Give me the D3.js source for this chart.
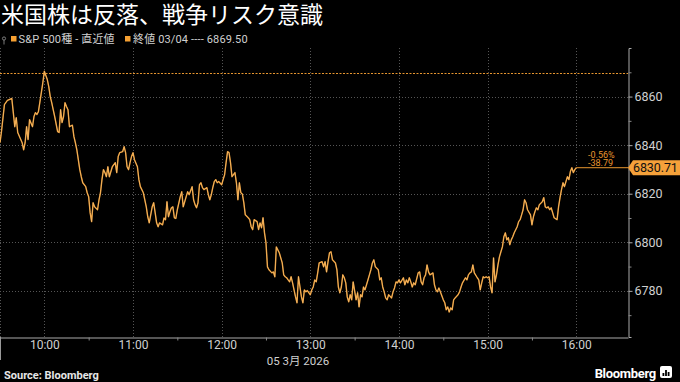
<!DOCTYPE html>
<html>
<head>
<meta charset="utf-8">
<script src="https://cdn.jsdelivr.net/npm/d3@7"></script>
<style>
  body { margin: 0; background: #000; }
  svg { display: block; }
</style>
</head>
<body>
<div id="viz"></div>
<script>
// Minutos desde la apertura (09:30) y precio del S&P 500
var minutes = [
  0, 1, 3, 5, 8, 10, 11, 12, 15, 16, 17, 18, 19, 20, 22, 23, 24, 25, 26, 28, 29, 30,
  32, 33, 34, 35, 36, 37, 39, 40, 41, 42, 43, 44, 45, 46, 47, 49, 50, 51, 52, 53,
  54, 55, 56, 58, 59, 60, 61, 62, 63, 64, 66, 67, 68, 69, 70, 71, 72, 73, 74, 76,
  78, 79, 80, 81, 83, 84, 85, 86, 87, 88, 89, 90, 91, 93, 94, 95, 97, 98, 99, 100,
  101, 103, 104, 105, 106, 107, 108, 110, 111, 112, 113, 114, 115, 116, 117, 118, 119, 120,
  122, 123, 124, 125, 126, 127, 128, 130, 131, 132, 133, 134, 135, 136, 137, 138, 140, 141,
  142, 143, 144, 145, 146, 147, 148, 150, 151, 152, 153, 154, 155, 156, 157, 159, 160, 161,
  162, 163, 164, 165, 166, 168, 169, 170, 171, 172, 174, 175, 176, 177, 178, 179, 180, 181,
  182, 184, 185, 186, 187, 188, 189, 191, 192, 193, 194, 195, 196, 197, 198, 200, 201, 202,
  203, 204, 205, 206, 207, 208, 210, 211, 212, 213, 214, 215, 216, 218, 219, 220, 221, 222,
  223, 224, 225, 227, 228, 229, 230, 231, 232, 233, 234, 235, 236, 237, 238, 239, 241, 242,
  243, 244, 245, 246, 247, 249, 250, 251, 252, 253, 254, 256, 257, 258, 259, 260, 261, 262,
  263, 265, 266, 267, 268, 269, 270, 271, 273, 274, 275, 276, 277, 278, 279, 280, 281, 283,
  284, 285, 286, 287, 288, 289, 290, 291, 293, 294, 295, 296, 297, 298, 300, 301, 302, 303,
  304, 305, 306, 307, 308, 310, 311, 312, 313, 315, 316, 317, 318, 319, 320, 321, 323, 324,
  325, 326, 327, 328, 329, 330, 331, 332, 333, 334, 335, 336, 337, 338, 339, 340, 341, 342,
  343, 344, 345, 346, 347, 348, 350, 351, 352, 353, 354, 355, 356, 357, 359, 360, 361, 362,
  363, 364, 365, 367, 368, 369, 370, 371, 372, 373, 374, 375, 377, 378, 379, 380, 381, 382,
  383, 384, 385, 386, 387, 388, 389, 390
];
var prices = [
  6841.0, 6845.6, 6856.7, 6858.4, 6859.2, 6847.6, 6851.3, 6845.2, 6841.0, 6838.1, 6841.0, 6847.6, 6842.3, 6850.5, 6847.6, 6851.8, 6853.4, 6852.6, 6853.8, 6861.7, 6865.8, 6870.4,
  6867.0, 6864.1, 6860.0, 6857.5, 6854.6, 6851.8, 6845.6, 6845.2, 6854.6, 6849.3, 6851.8, 6857.5, 6855.9, 6854.6, 6847.6, 6848.2, 6843.6, 6841.0, 6838.1, 6834.0,
  6829.9, 6827.0, 6824.5, 6822.9, 6820.4, 6818.8, 6812.2, 6808.5, 6816.3, 6814.6, 6813.4, 6817.5, 6820.4, 6825.8, 6829.9, 6828.7, 6827.0, 6831.1, 6827.0, 6831.1,
  6832.8, 6828.7, 6835.3, 6836.9, 6837.3, 6839.4, 6836.9, 6831.1, 6829.9, 6832.8, 6835.3, 6836.9, 6834.0, 6831.1, 6825.8, 6822.9, 6820.4, 6817.5, 6814.6, 6810.5,
  6808.0, 6814.6, 6816.3, 6812.2, 6808.0, 6806.4, 6808.0, 6807.2, 6810.0, 6809.3, 6816.7, 6810.5, 6812.6, 6814.2, 6814.6, 6810.1, 6809.8, 6813.4,
  6818.8, 6820.8, 6814.6, 6816.7, 6818.8, 6820.8, 6819.6, 6822.9, 6817.5, 6815.5, 6814.2, 6816.3, 6823.7, 6824.5, 6822.5, 6821.7, 6822.5, 6819.6,
  6817.5, 6819.6, 6822.5, 6825.0, 6825.8, 6824.5, 6825.0, 6823.7, 6825.8, 6827.8, 6832.8, 6837.3, 6836.9, 6832.8, 6827.0, 6828.7, 6824.5, 6817.5,
  6824.5, 6820.4, 6819.9, 6816.3, 6811.3, 6810.1, 6809.3, 6806.4, 6805.2, 6809.3, 6808.5, 6805.2, 6808.0, 6806.0, 6810.1, 6803.9, 6799.8, 6789.9,
  6788.7, 6787.4, 6787.8, 6785.8, 6798.1, 6796.9, 6795.7, 6791.5, 6786.6, 6785.8, 6785.4, 6784.5, 6783.7, 6785.8, 6783.3, 6777.5, 6775.1, 6785.8,
  6781.6, 6777.5, 6775.1, 6780.4, 6779.6, 6780.1, 6778.4, 6780.4, 6781.6, 6784.5, 6783.7, 6787.4, 6791.5, 6792.0, 6789.9, 6792.0, 6787.8, 6792.0,
  6795.7, 6796.1, 6792.8, 6791.5, 6788.7, 6781.6, 6779.2, 6781.6, 6786.6, 6785.4, 6783.3, 6777.5, 6775.5, 6778.4, 6776.3, 6783.7, 6776.3, 6779.2,
  6773.4, 6778.4, 6777.5, 6781.6, 6780.4, 6784.5, 6786.6, 6788.7, 6791.5, 6792.8, 6789.9, 6788.7, 6784.5, 6785.4, 6781.6, 6779.6, 6777.1, 6776.3,
  6778.4, 6777.1, 6779.6, 6781.2, 6783.7, 6783.3, 6784.5, 6783.3, 6785.4, 6782.5, 6784.5, 6783.3, 6785.4, 6783.7, 6781.6, 6783.3, 6782.5, 6787.4,
  6787.8, 6783.7, 6782.5, 6785.4, 6786.6, 6790.7, 6787.8, 6786.6, 6787.4, 6782.5, 6780.4, 6779.6, 6781.2, 6779.6, 6776.3, 6775.1, 6772.2, 6773.4,
  6771.3, 6773.0, 6772.2, 6776.3, 6777.1, 6778.4, 6779.6, 6781.6, 6783.3, 6785.4, 6784.5, 6786.6, 6787.4, 6787.8, 6790.7, 6787.4, 6785.4, 6784.5,
  6780.4, 6783.3, 6785.8, 6785.4, 6785.8, 6785.4, 6785.8, 6781.6, 6779.2, 6793.6, 6783.7, 6786.6, 6790.7, 6794.0, 6796.1, 6798.1, 6802.3, 6803.9,
  6801.0, 6801.9, 6799.0, 6801.0, 6802.3, 6803.9, 6806.4, 6808.5, 6809.3, 6811.3, 6813.4, 6817.5, 6816.3, 6813.4, 6811.3, 6807.2, 6810.5, 6812.6,
  6814.2, 6813.4, 6815.5, 6816.7, 6818.4, 6814.6, 6814.2, 6814.6, 6813.4, 6814.2, 6812.2, 6810.1, 6809.3, 6814.6, 6818.4, 6821.7, 6824.5, 6822.9,
  6825.0, 6827.0, 6825.8, 6829.1, 6830.7, 6828.7, 6829.9, 6830.71
];

var prevClose = 6869.50;
var lastPrice = 6830.71;
var changeLabels = ['-0.56%', '-38.79'];
var yTicks = [6780, 6800, 6820, 6840, 6860];
var yMinorTicks = [6770, 6790, 6810, 6830, 6850, 6870];
var hourTicks = ['10:00', '11:00', '12:00', '13:00', '14:00', '15:00', '16:00'];
var halfHourTicks = ['10:30', '11:30', '12:30', '13:30', '14:30', '15:30'];
var dateLabel = '05 3月 2026';
var title = '米国株は反落、戦争リスク意識';
var legendSeries = 'S&P 500種 - 直近値';
var legendClose = '終値 03/04 ---- 6869.50';

/*
 * Configuracion
 */
var width = 680, height = 382;
var plot = { left: 0, right: 628, top: 48, bottom: 337 };
var orange = '#e8962f';
var font = "Roboto, 'Noto Sans CJK JP', sans-serif";

var day = '2026-03-05';
var parseTime = d3.timeParse('%Y-%m-%d %H:%M');
var open = parseTime(day + ' 09:30');
var toTime = function (hm) { return parseTime(day + ' ' + hm); };

var data = minutes.map(function (m, i) {
  return { t: d3.timeMinute.offset(open, m), v: prices[i] };
});
var lastPoint = data[data.length - 1];

var x = d3.scaleTime()
  .domain([open, toTime('16:35')])
  .range([plot.left, plot.right]);
var y = d3.scaleLinear()
  .domain([6761, 6880])
  .range([plot.bottom, plot.top]);

var svg = d3.select('#viz')
  .append('svg')
  .attr('width', width)
  .attr('height', height)
  .style('background', '#000')
  .style('font-family', font);

/*
 * Titulo y leyenda
 */
svg.append('text')
  .attr('x', 1)
  .attr('y', 22.5)
  .attr('fill', '#fff')
  .style('font-family', "'Noto Sans CJK JP', sans-serif")
  .style('font-size', '23px')
  .text(title);

var legend = svg.append('g').style('font-size', '11px').attr('fill', '#d0d0d0');
legend.append('circle').attr('cx', 4).attr('cy', 38.5).attr('r', 1.6)
  .attr('fill', 'none').attr('stroke', '#999').attr('stroke-width', 0.8);
legend.append('line').attr('x1', 4).attr('x2', 4).attr('y1', 40).attr('y2', 44.5)
  .attr('stroke', '#999').attr('stroke-width', 0.8);
legend.append('rect').attr('x', 11).attr('y', 36).attr('width', 5.5).attr('height', 5.5).attr('fill', '#f5a032');
legend.append('text').attr('x', 18.5).attr('y', 42.5).style('letter-spacing', '0.15px').text(legendSeries);
legend.append('rect').attr('x', 125).attr('y', 36).attr('width', 5.5).attr('height', 5.5).attr('fill', '#f5a032');
legend.append('text').attr('x', 133).attr('y', 42.5).style('letter-spacing', '0.15px').text(legendClose);

/*
 * Grilla punteada
 */
var grid = svg.append('g')
  .attr('stroke', '#555')
  .attr('stroke-width', 1)
  .attr('stroke-dasharray', '1,2');

grid.selectAll('line.h')
  .data(yTicks)
  .enter().append('line')
  .attr('x1', plot.left)
  .attr('x2', plot.right)
  .attr('y1', function (d) { return Math.round(y(d)) + 0.5; })
  .attr('y2', function (d) { return Math.round(y(d)) + 0.5; });

grid.selectAll('line.v')
  .data(hourTicks.map(toTime).concat([open]))
  .enter().append('line')
  .attr('x1', function (d) { return Math.round(x(d)) + 0.5; })
  .attr('x2', function (d) { return Math.round(x(d)) + 0.5; })
  .attr('y1', plot.top)
  .attr('y2', plot.bottom);

/*
 * Cierre anterior (linea punteada naranja)
 */
svg.append('line')
  .attr('x1', plot.left)
  .attr('x2', plot.right)
  .attr('y1', y(prevClose))
  .attr('y2', y(prevClose))
  .attr('stroke', orange)
  .attr('stroke-width', 1)
  .attr('stroke-dasharray', '2,1.5');

/*
 * Ejes
 */
var yAxis = svg.append('g')
  .attr('transform', 'translate(' + (plot.right + 0.5) + ',0)')
  .call(d3.axisRight(y).tickValues(yTicks).tickFormat(d3.format('d'))
    .tickSizeInner(4).tickSizeOuter(3).tickPadding(2));
yAxis.select('.domain').attr('stroke', '#aaa');
yAxis.selectAll('.tick line').attr('stroke', '#aaa');
yAxis.selectAll('.tick text').attr('fill', '#d0d0d0')
  .style('font-family', font).style('font-size', '12.5px');

var yMinor = svg.append('g')
  .attr('transform', 'translate(' + (plot.right + 0.5) + ',0)')
  .call(d3.axisRight(y).tickValues(yMinorTicks).tickFormat('').tickSize(3));
yMinor.select('.domain').remove();
yMinor.selectAll('.tick line').attr('stroke', '#888');

var xAxis = svg.append('g')
  .attr('transform', 'translate(0,' + (plot.bottom + 0.5) + ')')
  .call(d3.axisBottom(x).tickValues(hourTicks.map(toTime))
    .tickFormat(d3.timeFormat('%H:%M')).tickSizeInner(0).tickSizeOuter(0).tickPadding(3));
xAxis.select('.domain').attr('stroke', '#aaa');
xAxis.selectAll('.tick text').attr('fill', '#d0d0d0')
  .style('font-family', font).style('font-size', '12px');

var xMinor = svg.append('g')
  .attr('transform', 'translate(0,' + (plot.bottom + 0.5) + ')')
  .call(d3.axisBottom(x).tickValues(halfHourTicks.map(toTime)).tickFormat('').tickSize(3));
xMinor.select('.domain').remove();
xMinor.selectAll('.tick line').attr('stroke', '#888');

// separador de dia a la izquierda
svg.append('line')
  .attr('x1', 0.5).attr('x2', 0.5)
  .attr('y1', plot.bottom).attr('y2', 360)
  .attr('stroke', '#999');

svg.append('text')
  .attr('x', 298)
  .attr('y', 365)
  .attr('text-anchor', 'middle')
  .attr('fill', '#d0d0d0')
  .style('font-size', '11.5px')
  .text(dateLabel);

/*
 * Serie de precios
 */
var line = d3.line()
  .x(function (d) { return x(d.t); })
  .y(function (d) { return y(d.v); });

svg.append('path')
  .datum(data)
  .attr('d', line)
  .attr('fill', 'none')
  .attr('stroke', orange)
  .attr('stroke-width', 1.4)
  .attr('stroke-linejoin', 'round');

svg.append('path')
  .datum(data)
  .attr('d', line)
  .attr('fill', 'none')
  .attr('stroke', '#ffdca6')
  .attr('stroke-width', 0.5)
  .attr('stroke-opacity', 0.7);

// extension plana hasta el eje
svg.append('line')
  .attr('x1', x(lastPoint.t))
  .attr('x2', plot.right)
  .attr('y1', y(lastPrice))
  .attr('y2', y(lastPrice))
  .attr('stroke', orange)
  .attr('stroke-width', 1);

// variacion del dia
svg.selectAll('text.chg')
  .data(changeLabels)
  .enter().append('text')
  .attr('x', 588)
  .attr('y', function (d, i) { return y(lastPrice) - 10 + i * 8.5; })
  .attr('fill', orange)
  .style('font-size', '9px')
  .text(function (d) { return d; });

/*
 * Etiqueta del ultimo precio
 */
var ly = y(lastPrice);
svg.append('path')
  .attr('d', 'M' + plot.right + ',' + ly + 'L' + (plot.right + 5) + ',' + (ly - 7.5) +
    'L680,' + (ly - 7.5) + 'L680,' + (ly + 7.5) + 'L' + (plot.right + 5) + ',' + (ly + 7.5) + 'Z')
  .attr('fill', '#f5a13a');
svg.append('text')
  .attr('x', plot.right + 5)
  .attr('y', ly + 4.5)
  .attr('fill', '#111')
  .style('font-size', '12.5px')
  .style('letter-spacing', '-0.1px')
  .text(d3.format('.2f')(lastPrice));

/*
 * Pie: fuente y logo
 */
svg.append('text')
  .attr('x', 4)
  .attr('y', 379)
  .attr('fill', '#e6e6e6')
  .style('font-size', '11px')
  .style('font-weight', 'bold')
  .text('Source: Bloomberg');

svg.append('text')
  .attr('x', 656)
  .attr('y', 378)
  .attr('text-anchor', 'end')
  .attr('fill', '#fff')
  .style('font-size', '13px')
  .style('font-weight', 'bold')
  .style('letter-spacing', '-0.3px')
  .text('Bloomberg');

var logo = svg.append('g').attr('transform', 'translate(660,366)');
logo.append('rect').attr('width', 12).attr('height', 12).attr('rx', 2).attr('fill', '#fff');
logo.selectAll('rect.bar')
  .data([3, 6, 4])
  .enter().append('rect')
  .attr('x', function (d, i) { return 2.5 + i * 2.6; })
  .attr('y', function (d) { return 10 - d; })
  .attr('width', 1.8)
  .attr('height', function (d) { return d; })
  .attr('fill', '#000');
</script>
</body>
</html>
